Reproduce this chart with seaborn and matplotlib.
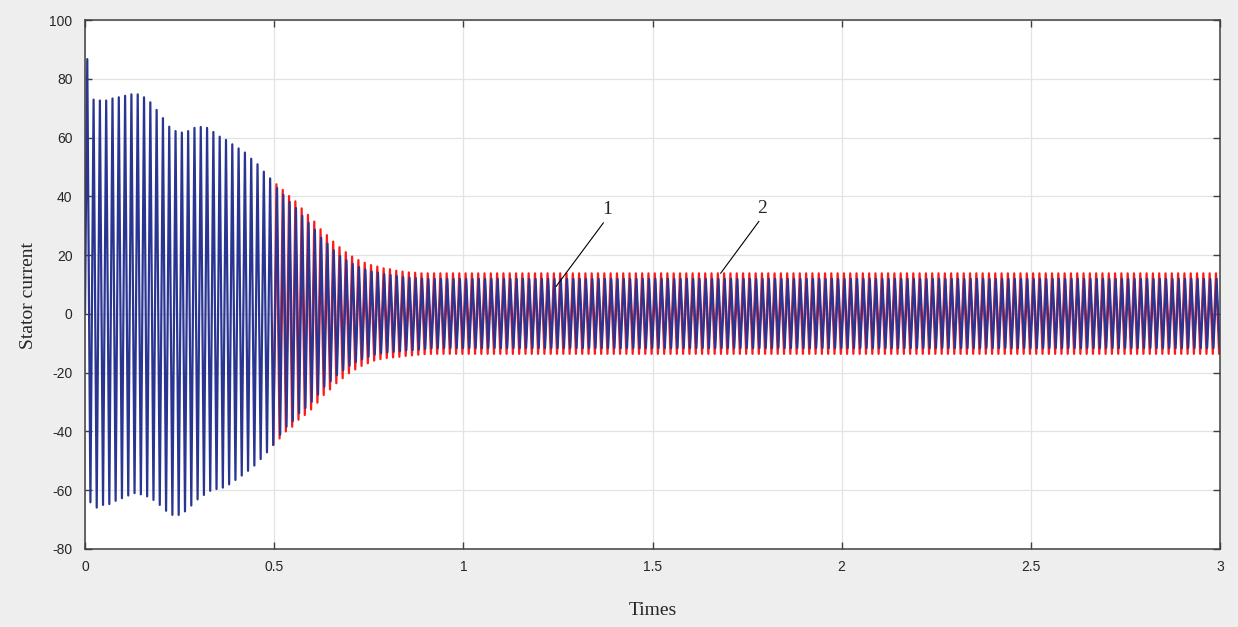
import numpy as np
import pandas as pd
import matplotlib
matplotlib.use("Agg")
import matplotlib.pyplot as plt
import seaborn as sns

# signal frequency and timing (peaks ~6.3 px apart -> 60 Hz)
f_hz = 60
n_cycles = 180
t_peak0 = 0.006
t_trough0 = 0.0143
lag_1 = 0.0016  # curve 1 sits slightly behind curve 2 once they split

# per-cycle positive peaks, start-up part (same for both curves)
pos_common = [86.7, 72.9, 72.6, 72.6, 73.3, 73.7, 74.2, 74.7, 74.7, 73.7,
              72.0, 69.4, 66.6, 63.7, 62.2, 61.7, 62.2, 63.3, 63.6, 63.3,
              61.9, 60.3, 59.2, 57.7, 56.3, 54.9, 52.8, 50.9, 48.4, 46.1]
neg_common = [-64.1, -65.9, -65.0, -64.7, -63.6, -62.7, -61.8, -61.0, -61.4, -62.1,
              -63.3, -65.0, -67.0, -68.4, -68.4, -67.2, -65.2, -63.1, -61.6, -60.2,
              -59.6, -59.1, -58.0, -56.5, -55.0, -53.4, -51.6, -49.4, -47.1, -44.6]

# after ~0.5 s the two curves split
pos_2 = [44.1, 42.2, 40.1, 38.3, 35.9, 33.7, 31.4, 28.8, 26.8, 24.6, 22.7, 21.0,
         19.5, 18.3, 17.4, 16.6, 16.1, 15.5, 15.2, 14.7, 14.4, 14.1, 14.0, 13.8]
neg_2 = [-42.4, -40.0, -38.4, -36.0, -34.4, -32.5, -30.2, -27.6, -25.7, -23.6, -21.9, -20.2,
         -18.9, -17.7, -16.8, -15.9, -15.4, -15.0, -14.8, -14.6, -14.3, -14.1, -13.9, -13.7]
pos_1 = [42.8, 40.5, 38.1, 36.0, 33.4, 31.0, 28.6, 25.9, 23.9, 21.6, 19.7, 18.3,
         17.0, 15.9, 15.1, 14.4, 14.0, 13.5, 13.2, 12.8, 12.5, 12.3, 12.2, 12.0]
neg_1 = [-41.1, -38.4, -36.5, -33.8, -32.0, -29.9, -27.5, -24.8, -22.9, -20.8, -19.1, -17.6,
         -16.4, -15.4, -14.6, -13.8, -13.4, -13.1, -12.9, -12.7, -12.4, -12.3, -12.1, -11.9]

# steady-state amplitudes
steady_2 = (13.8, -13.6)
steady_1 = (11.9, -11.6)

x_ticks = [0, 0.5, 1, 1.5, 2, 2.5, 3]
x_labels = ["0", "0.5", "1", "1.5", "2", "2.5", "3"]
y_ticks = [-80, -60, -40, -20, 0, 20, 40, 60, 80, 100]
y_labels = ["-80", "-60", "-40", "-20", "0", "20", "40", "60", "80", "100"]


def build(pos, neg, steady, lag, name, start=0):
    n_fill = n_cycles - len(pos)
    pos = list(pos) + [steady[0]] * n_fill
    neg = list(neg) + [steady[1]] * n_fill
    k = np.arange(n_cycles)
    shift = np.where(k >= len(pos_common), lag, 0.0)
    tp = t_peak0 + k / f_hz + shift
    tn = t_trough0 + k / f_hz + shift
    t = np.empty(2 * n_cycles)
    v = np.empty(2 * n_cycles)
    t[0::2], t[1::2] = tp, tn
    v[0::2], v[1::2] = pos, neg
    t = np.concatenate([[0.0], t])
    v = np.concatenate([[0.0], v])
    d = pd.DataFrame({"time": t, "current": v, "curve": name})
    # where both curves coincide curve 1 covers curve 2, so only keep its visible part
    return d.iloc[start:]


n_hidden = 2 * len(pos_common)
df = pd.concat([
    build(pos_common + pos_2, neg_common + neg_2, steady_2, 0.0, "2", start=n_hidden),
    build(pos_common + pos_1, neg_common + neg_1, steady_1, lag_1, "1"),
], ignore_index=True)

sns.set_style("white")
plt.rcParams["axes.unicode_minus"] = False

fig = plt.figure(figsize=(12.38, 6.27), dpi=100, facecolor="#eeeeee")
ax = fig.add_axes([85 / 1238, 1 - 549 / 627, 1135 / 1238, 529 / 627])
ax.set_facecolor("white")

sns.lineplot(data=df, x="time", y="current", hue="curve", hue_order=["2", "1"],
             palette={"2": "#ff1a1a", "1": "#2a3592"}, estimator=None, sort=False,
             linewidth=1.6, legend=False, ax=ax)

ax.set_xlim(0, 3)
ax.set_ylim(-80, 100)
ax.set_xticks(x_ticks)
ax.set_xticklabels(x_labels, family="Liberation Sans", fontsize=10, color="#262626")
ax.set_yticks(y_ticks)
ax.set_yticklabels(y_labels, family="Liberation Sans", fontsize=10, color="#262626")
ax.tick_params(direction="in", length=5, width=1, color="#404040",
               top=True, right=True, bottom=True, left=True)
ax.tick_params(axis="x", pad=8)
ax.tick_params(axis="y", pad=9)
ax.grid(True, color="#e3e3e3", linewidth=0.9)
ax.set_axisbelow(True)
for s in ax.spines.values():
    s.set_color("#404040")
    s.set_linewidth(1.1)

ax.set_xlabel("Times", family="Liberation Serif", fontsize=14, labelpad=20)
ax.set_ylabel("Stator current", family="Liberation Serif", fontsize=14)
ax.yaxis.set_label_coords(-0.042, 0.48)

for txt, tip, pos in [("1", (1.245, 9.3), (1.379, 35.4)), ("2", (1.680, 13.8), (1.790, 35.9))]:
    ax.annotate(txt, xy=tip, xytext=pos, ha="center", va="center",
                family="Liberation Serif", fontsize=14,
                arrowprops=dict(arrowstyle="-", color="black", lw=0.8,
                                relpos=(0.5, 0.0), shrinkA=1, shrinkB=0))

fig.savefig("out.png", dpi=100, facecolor=fig.get_facecolor())
